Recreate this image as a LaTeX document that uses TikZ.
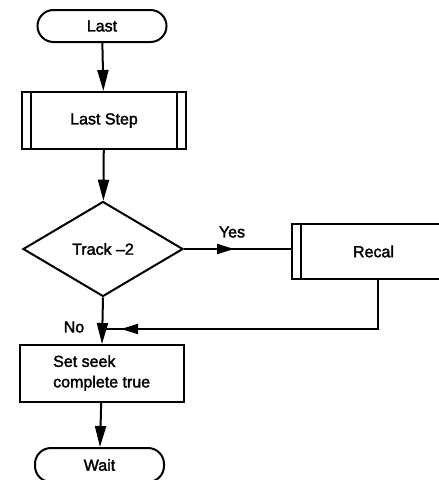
\documentclass[tikz,border=0pt]{standalone}
\usepackage{fontspec}
\setmainfont{Liberation Sans}
\newfontfamily\medfont{Liberation Sans}[FakeBold=2,Ligatures=TeX]
\usetikzlibrary{shapes.geometric,arrows.meta,decorations.markings}
\tikzset{
  txt/.style={font=\medfont\fontsize{16}{20.5}\selectfont},
  base/.style={draw, line width=2pt, inner sep=0pt, txt},
  term/.style={base, rounded corners=16pt, minimum width=129pt, minimum height=32pt},
  proc/.style={base, rectangle, minimum width=164pt, minimum height=57pt},
  bar/.style={draw, line width=2pt},
  predef/.style={proc, append after command={
      ([xshift=10pt]\tikzlastnode.north west) edge[bar] ([xshift=10pt]\tikzlastnode.south west)
      ([xshift=-10pt]\tikzlastnode.north east) edge[bar] ([xshift=-10pt]\tikzlastnode.south east)}},
  decide/.style={base, diamond, aspect=1.68, minimum width=160pt, minimum height=95pt},
  conn/.style={line width=2pt},
  flow/.style={conn, -{Triangle[length=21pt,width=11pt]}},
  lbl/.style={txt, inner sep=0pt},
  midtip/.style={conn, postaction={decorate}, decoration={markings,
      mark=at position #1 with {\arrow{Triangle[length=17pt,width=10pt]}}}}
}
\begin{document}
\begin{tikzpicture}[x=1pt,y=-1pt]
\useasboundingbox (0,0) rectangle (439,480);
\clip (0,0) rectangle (439,480);
\node[term] (last) at (102,26) {Last};
\node[predef] (laststep) at (104,120.5) {Last Step};
\node[decide] (track) at (103,249) {Track –2};
\node[predef, minimum width=163pt, minimum height=55pt] (recal) at (373.5,251.5) {Recal};
\node[proc] (seek) at (102,373.5) {};
\node[lbl, anchor=west, align=left] (seektext) at (53,373) {Set seek\\complete true};
\node[term, minimum height=34pt] (wait) at (99.5,465) {Wait};
\coordinate (merge) at (102,329);
\node[lbl] (yes) at (232,232) {Yes};
\node[lbl] (no) at (74,327) {No};

\draw[flow] (last) -- (laststep);
\draw[flow] (laststep) -- (track);
\draw[midtip=50pt] (track.east) -- (track.east -| recal.west);
\draw[flow] (track.south) -- (seek.north);
\draw[midtip=-19pt] ([xshift=4pt]recal.south) |- (merge);
\draw[flow] (seek) -- (wait);
\end{tikzpicture}
\end{document}
